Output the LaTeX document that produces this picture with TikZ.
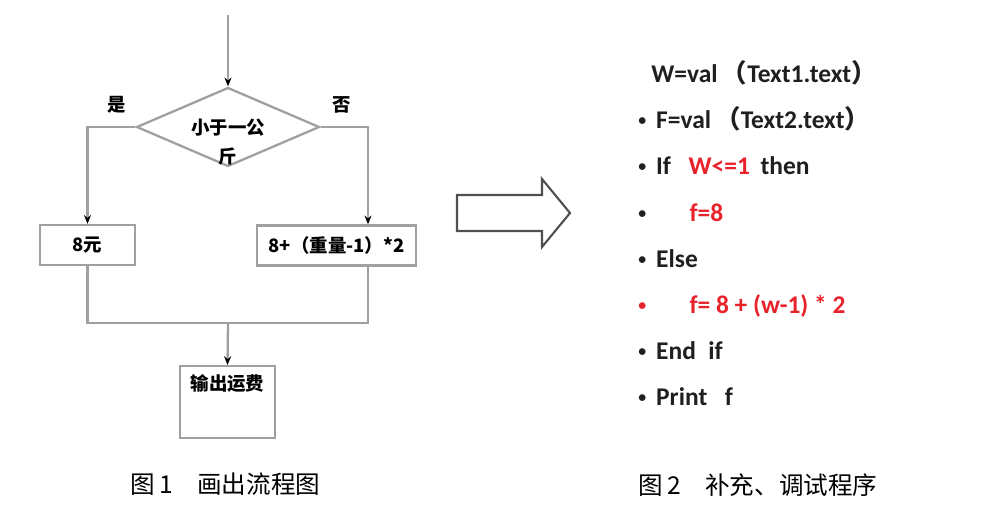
\documentclass[tikz,border=0pt]{standalone}
\usepackage{fontspec}
\setmainfont{Carlito}
\newfontfamily\cjk{Noto Sans CJK SC}
\usepackage{xcolor}
\definecolor{wireGray}{HTML}{A0A0A0}
\definecolor{arrowGray}{HTML}{505050}
\definecolor{codeRed}{HTML}{E8232B}
\usetikzlibrary{arrows.meta,shapes.geometric}
\newcommand{\bul}{\makebox[0.7em][l]{\raisebox{1.5pt}{\fontsize{9}{9}\selectfont\textbullet}}}

\begin{document}
\begin{tikzpicture}[x=0.02cm,y=-0.02cm,
 wire/.style={draw=wireGray,line width=1.3pt},
 arr/.style={wire,-{Stealth[length=5pt,width=4pt,black]}},
 box/.style={wire,minimum height=0.8cm,inner sep=2pt,
 font=\cjk\bfseries\fontsize{10.5}{12}\selectfont},
 dec/.style={wire,diamond,minimum width=3.66cm,minimum height=1.58cm,inner sep=0pt},
 lab/.style={font=\cjk\bfseries\fontsize{10.5}{16.5}\selectfont},
 figcap/.style={font=\cjk\fontsize{14}{16}\selectfont,anchor=west,inner sep=0pt},
 code/.style={font=\bfseries\fontsize{14.5}{16}\selectfont,anchor=base west,
 inner sep=0pt,text=black!88},
 hollow/.style={draw=arrowGray,line width=1.2pt,line join=miter}]
 \useasboundingbox (0,0) rectangle (1000,524);
 % flowchart
 \coordinate (start) at (228,15);
 \node[dec] (dec) at (228,127) {};
 \node[lab,align=center,anchor=north] (dectext) at (228,113) {小于一公\\斤};
 \node[box,minimum width=1.9cm] (yes) at (87.5,245) {8元};
 \node[box,minimum width=3.18cm] (no) at (336.5,245.5) {8+（重量-1）*2};
 \node[box,minimum width=1.9cm,minimum height=1.44cm,text depth=0.8cm,
 anchor=north] (out) at (227.5,365) {输出运费};
 \coordinate (noturn) at (368,127);
 \coordinate (join) at (228,323);
 \draw[arr] (start) -- (dec.north);
 \draw[arr] (dec.west) -| node[lab,pos=.19,above=4pt] {是} (yes.north);
 \draw[arr] (dec.east) -- node[lab,pos=.44,above=4pt] {否} (noturn)
 -- (noturn |- no.north);
 \draw[wire] (yes.south) |- (join) -| (noturn |- no.south);
 \draw[arr] (join) -- (out.north);
 \node[figcap] (cap1) at (130,484) {图\,1\quad 画出流程图};
 % hollow arrow
 \draw[hollow] (457,195) -- (542,195) -- (542,179) -- (570,213)
 -- (542,247) -- (542,231) -- (457,231) -- cycle;
 % program
 \node[code] (wval) at (651,82) {W=val\,{\cjk（}Text1.text{\cjk）}};
 \node[code] (fval) at (638,128) {\bul F=val\,{\cjk（}Text2.text{\cjk）}};
 \node[code] (cond) at (638,174)
 {\bul If\hspace{10pt}{\color{codeRed}W<=1}\hspace{6pt}then};
 \node[code] (thenpart) at (638,221) {\bul\hspace{19pt}{\color{codeRed}f=8}};
 \node[code] (elsepart) at (638,267) {\bul Else};
 \node[code,text=codeRed] (calc) at (638,313) {\bul\hspace{19pt}f= 8 + (w-1) * 2};
 \node[code] (endif) at (638,359) {\bul End\hspace{7pt}if};
 \node[code] (print) at (638,405) {\bul Print\hspace{10pt}f};
 \node[figcap] (cap2) at (638,485) {图\,2\quad 补充、调试程序};
\end{tikzpicture}
\end{document}
